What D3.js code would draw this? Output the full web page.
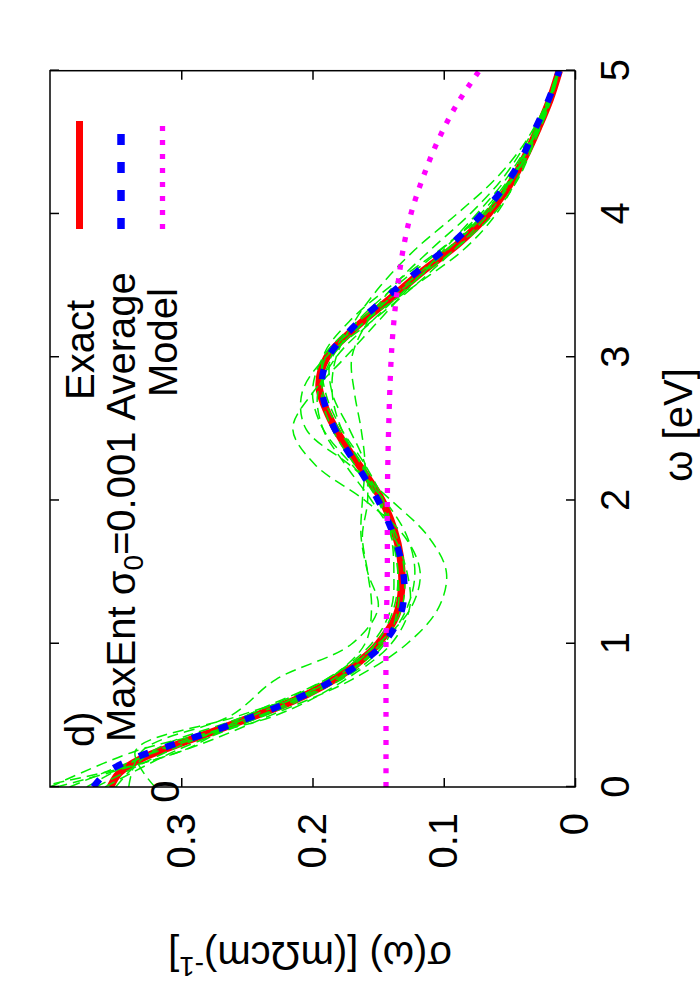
<!DOCTYPE html>
<html><head><meta charset="utf-8">
<script src="https://cdn.jsdelivr.net/npm/d3@7"></script>
<style>body{margin:0;background:#fff}svg{display:block}text{font-family:"Liberation Sans",Arial,Helvetica,sans-serif}</style>
</head><body>
<svg id="c" width="700" height="1000"></svg>
<script>
// ---- data ----
const omegaTicks = [0, 1, 2, 3, 4, 5];
const sigmaTicks = [0, 0.1, 0.2, 0.3];
const fineOmega = [0,0.1,0.2,0.3,0.4,0.5,0.6,0.7,0.8,0.9,1.0,1.2,1.4,1.6,1.8,2.0,2.2,2.4,2.6,2.8,3.0,3.2,3.4,3.6,3.8,4.0,4.2,4.4,4.6,4.8,5.0];
const exactSigma = [0.354,0.347,0.330,0.302,0.272,0.243,0.215,0.193,0.175,0.161,0.150,0.136,0.132,0.133,0.138,0.147,0.161,0.176,0.188,0.195,0.189,0.168,0.142,0.116,0.088,0.066,0.050,0.038,0.028,0.019,0.012];
const averageSigma = [0.367,0.357,0.336,0.305,0.273,0.243,0.216,0.193,0.174,0.158,0.146,0.133,0.130,0.133,0.140,0.150,0.163,0.177,0.188,0.193,0.188,0.170,0.146,0.120,0.093,0.071,0.053,0.040,0.030,0.020,0.012];
const modelOmega = [0,0.5,1,1.5,2,2.5,3,3.25,3.5,3.75,4,4.25,4.5,4.75,5];
const modelSigma = [0.144,0.144,0.144,0.143,0.143,0.142,0.140,0.138,0.135,0.131,0.125,0.116,0.105,0.091,0.073];
const sampleOmega = [0,0.25,0.5,0.75,1,1.25,1.5,1.75,2,2.25,2.5,2.75,3,3.25,3.5,3.75,4,4.25,4.5,4.75,5];
const sample1 = [0.372,0.320,0.240,0.182,0.148,0.132,0.130,0.136,0.150,0.168,0.185,0.193,0.185,0.160,0.130,0.098,0.070,0.049,0.034,0.022,0.013];
const sample2 = [0.395,0.300,0.232,0.170,0.128,0.104,0.098,0.112,0.140,0.172,0.205,0.208,0.190,0.155,0.122,0.092,0.066,0.047,0.033,0.021,0.012];
const sample3 = [0.340,0.330,0.262,0.228,0.170,0.150,0.158,0.163,0.162,0.160,0.163,0.168,0.170,0.158,0.138,0.110,0.080,0.055,0.037,0.023,0.013];
const sample4 = [0.410,0.300,0.250,0.190,0.150,0.125,0.118,0.130,0.160,0.198,0.215,0.200,0.175,0.150,0.125,0.100,0.075,0.052,0.035,0.022,0.012];
const sample5 = [0.320,0.335,0.255,0.178,0.145,0.135,0.135,0.138,0.146,0.160,0.178,0.190,0.192,0.172,0.140,0.103,0.070,0.047,0.032,0.020,0.012];
const sample6 = [0.365,0.310,0.245,0.185,0.152,0.138,0.135,0.140,0.150,0.163,0.178,0.185,0.182,0.168,0.148,0.122,0.090,0.060,0.038,0.023,0.013];
const sample7 = [0.385,0.318,0.236,0.180,0.146,0.128,0.122,0.128,0.145,0.170,0.192,0.200,0.192,0.165,0.128,0.092,0.062,0.043,0.031,0.020,0.012];
const sample8 = [0.350,0.322,0.250,0.190,0.155,0.140,0.138,0.140,0.148,0.162,0.180,0.192,0.190,0.160,0.122,0.085,0.060,0.044,0.032,0.021,0.012];
const sample9 = [0.358,0.305,0.238,0.188,0.160,0.155,0.158,0.162,0.158,0.160,0.172,0.185,0.186,0.166,0.136,0.102,0.072,0.050,0.034,0.022,0.013];
const sample10 = [0.400,0.335,0.228,0.175,0.140,0.126,0.128,0.138,0.155,0.175,0.192,0.196,0.182,0.155,0.126,0.097,0.068,0.048,0.033,0.021,0.012];
const samples = [sample1,sample2,sample3,sample4,sample5,sample6,sample7,sample8,sample9,sample10];

// ---- layout (inner landscape frame, rotated -90deg onto the page) ----
const FS = 40;
const svg = d3.select('#c');
const g = svg.append('g').attr('transform','translate(0,1000) rotate(-90)');
const x = d3.scaleLinear().domain([0,5]).range([213, 929.3]);
const y = d3.scaleLinear().domain([0,0.4]).range([575, 50]);

g.append('clipPath').attr('id','clip').append('rect')
  .attr('x',213).attr('y',50).attr('width',929.3-213).attr('height',525);

const line = (xs, ys) => d3.line().curve(d3.curveCatmullRom.alpha(0.5))
  .x((d,i)=>x(xs[i])).y(d=>y(d))(ys);

const plot = g.append('g').attr('clip-path','url(#clip)');
plot.append('path').attr('d', line(fineOmega, exactSigma))
  .attr('fill','none').attr('stroke','#ff0000').attr('stroke-width',7.5);
samples.forEach(s=>{
  plot.append('path').attr('d', line(sampleOmega, s))
    .attr('fill','none').attr('stroke','#00ee00').attr('stroke-width',1.5)
    .attr('stroke-dasharray','11,6');
});
plot.append('path').attr('d', line(fineOmega, averageSigma))
  .attr('fill','none').attr('stroke','#0000ff').attr('stroke-width',6.5)
  .attr('stroke-dasharray','10,18');
plot.append('path').attr('d', line(modelOmega, modelSigma))
  .attr('fill','none').attr('stroke','#ff00ff').attr('stroke-width',5.3)
  .attr('stroke-dasharray','5,9');

// axes
function style(sel){
  sel.select('.domain').remove();
  sel.selectAll('line').attr('stroke','#000').attr('stroke-width',1.5);
  sel.selectAll('text').attr('font-size',FS).attr('fill','#000')
     .attr('font-family','"Liberation Sans",Arial,sans-serif');
}
g.append('g').attr('transform','translate(0,575)')
  .call(d3.axisBottom(x).tickValues(omegaTicks).tickFormat(d3.format('d')).tickSizeInner(-9).tickSizeOuter(0).tickPadding(26))
  .call(style);
g.append('g').attr('transform','translate(0,50)')
  .call(d3.axisTop(x).tickValues(omegaTicks).tickFormat('').tickSizeInner(-9).tickSizeOuter(0))
  .call(style);
g.append('g').attr('transform','translate(213,0)')
  .call(d3.axisLeft(y).tickValues(sigmaTicks).tickFormat(d=>d===0?'0':d3.format('.1f')(d)).tickSizeInner(-9).tickSizeOuter(0).tickPadding(26))
  .call(style);
g.append('g').attr('transform','translate(929.3,0)')
  .call(d3.axisRight(y).tickValues(sigmaTicks).tickFormat('').tickSizeInner(-9).tickSizeOuter(0))
  .call(style);

// stray glyph near origin
g.append('text').attr('x',208.5).attr('y',179).attr('text-anchor','middle')
  .attr('font-size',FS).text('0');

// frame
g.append('rect').attr('x',213).attr('y',50).attr('width',929.3-213).attr('height',525)
  .attr('fill','none').attr('stroke','#000').attr('stroke-width',1.5);

// axis titles
g.append('text').attr('x',575).attr('y',692).attr('text-anchor','middle')
  .attr('font-size',FS).text('ω [eV]');
const yt = g.append('text').attr('transform','translate(58,310) rotate(-90)')
  .attr('text-anchor','middle').attr('font-size',FS);
yt.append('tspan').text('σ(ω) [(mΩcm)');
yt.append('tspan').attr('font-size',28).attr('dy',-15).text('-1');
yt.append('tspan').attr('dy',15).text(']');

// panel label and legend
g.append('text').attr('x',253).attr('y',93.5).attr('font-size',FS).text('d)');
const legendRows = [
  {y:79.5, color:'#ff0000', w:7, dash:null},
  {y:121, color:'#0000ff', w:7.5, dash:'11,17'},
  {y:162.5, color:'#ff00ff', w:5.3, dash:'5,9'}
];
legendRows.forEach(r=>{
  g.append('line').attr('x1',771).attr('x2',879).attr('y1',r.y).attr('y2',r.y)
    .attr('stroke',r.color).attr('stroke-width',r.w).attr('stroke-dasharray',r.dash);
});
g.append('text').attr('x',600).attr('y',93.5).attr('font-size',FS).text('Exact');
const t2 = g.append('text').attr('x',258).attr('y',135).attr('font-size',FS);
t2.append('tspan').text('MaxEnt σ');
t2.append('tspan').attr('font-size',28).attr('dy',8).text('0');
t2.append('tspan').attr('dy',-8).text('=0.001 Average');
g.append('text').attr('x',603).attr('y',176.5).attr('font-size',FS).text('Model');
</script>
</body></html>
